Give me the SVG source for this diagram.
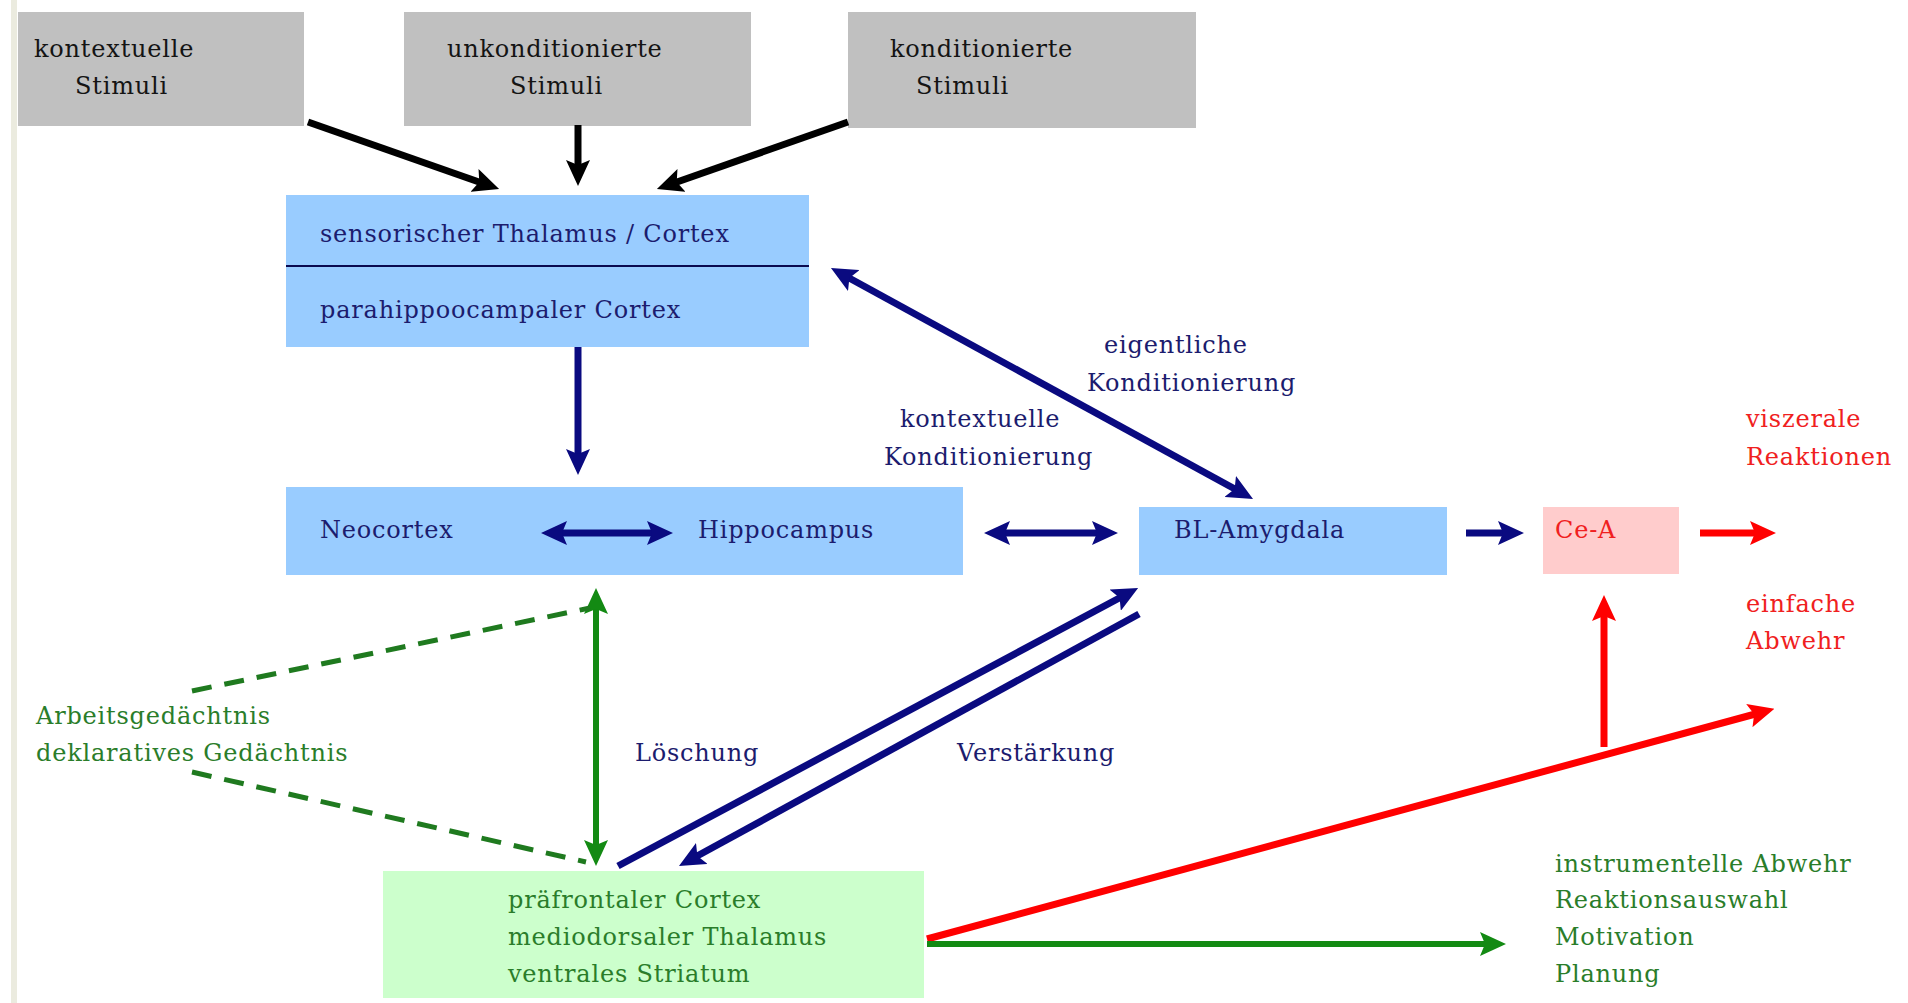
<svg xmlns="http://www.w3.org/2000/svg" width="1908" height="1003" viewBox="0 0 1908 1003">
<defs>
<style>
.t{font-family:"DejaVu Serif","Liberation Serif",serif;font-size:24px;letter-spacing:0.8px}
.k{fill:#141414}
.n{fill:#1c1c6e}
.r{fill:#f02020}
.g{fill:#2a7d2a}
.grey{fill:#c0c0c0}
.blue{fill:#99ccff}
.pink{fill:#ffcccc}
.green{fill:#ccffcc}
.lk{stroke:#000;stroke-width:7;fill:none}
.ln{stroke:#0a0a80;stroke-width:7;fill:none}
.lr{stroke:#ff0000;stroke-width:7;fill:none}
.lg{stroke:#138a13;stroke-width:6;fill:none}
.dash{stroke:#1f7a1f;stroke-width:5;fill:none;stroke-dasharray:20 13}
</style>
<marker id="ak" viewBox="0 0 26 24" markerWidth="26" markerHeight="24" refX="10" refY="12" markerUnits="userSpaceOnUse" orient="auto-start-reverse"><path d="M0,0 L26,12 L0,24 L5,12 Z" fill="#000"/></marker>
<marker id="an" viewBox="0 0 26 24" markerWidth="26" markerHeight="24" refX="10" refY="12" markerUnits="userSpaceOnUse" orient="auto-start-reverse"><path d="M0,0 L26,12 L0,24 L5,12 Z" fill="#0a0a80"/></marker>
<marker id="ar" viewBox="0 0 26 24" markerWidth="26" markerHeight="24" refX="10" refY="12" markerUnits="userSpaceOnUse" orient="auto-start-reverse"><path d="M0,0 L26,12 L0,24 L5,12 Z" fill="#ff0000"/></marker>
<marker id="ag" viewBox="0 0 26 24" markerWidth="26" markerHeight="24" refX="10" refY="12" markerUnits="userSpaceOnUse" orient="auto-start-reverse"><path d="M0,0 L26,12 L0,24 L5,12 Z" fill="#138a13"/></marker>
</defs>
<rect x="0" y="0" width="1908" height="1003" fill="#ffffff"/>
<rect x="11" y="0" width="6" height="1003" fill="#ebebdf"/>

<g id="nodes">
<g id="kontextuelle-stimuli">
<rect class="grey" x="18" y="12" width="286" height="114"/>
<text class="t k" x="34" y="57">kontextuelle</text>
<text class="t k" x="75" y="94">Stimuli</text>
</g>
<g id="unkonditionierte-stimuli">
<rect class="grey" x="404" y="12" width="347" height="114"/>
<text class="t k" x="447" y="57">unkonditionierte</text>
<text class="t k" x="510" y="94">Stimuli</text>
</g>
<g id="konditionierte-stimuli">
<rect class="grey" x="848" y="12" width="348" height="116"/>
<text class="t k" x="890" y="57">konditionierte</text>
<text class="t k" x="916" y="94">Stimuli</text>
</g>
<g id="thalamus-cortex">
<rect class="blue" x="286" y="195" width="523" height="152"/>
<line x1="286" y1="266" x2="809" y2="266" stroke="#0a0a50" stroke-width="2"/>
<text class="t n" x="320" y="242">sensorischer Thalamus / Cortex</text>
<text class="t n" x="320" y="318">parahippoocampaler Cortex</text>
</g>
<g id="neocortex-hippocampus">
<rect class="blue" x="286" y="487" width="677" height="88"/>
<text class="t n" x="320" y="538">Neocortex</text>
<text class="t n" x="698" y="538">Hippocampus</text>
</g>
<g id="bl-amygdala">
<rect class="blue" x="1139" y="507" width="308" height="68"/>
<text class="t n" x="1174" y="538">BL-Amygdala</text>
</g>
<g id="ce-a">
<rect class="pink" x="1543" y="507" width="136" height="67"/>
<text class="t r" x="1555" y="538">Ce-A</text>
</g>
<g id="praefrontal">
<rect class="green" x="383" y="871" width="541" height="127"/>
<text class="t g" x="508" y="908">präfrontaler Cortex</text>
<text class="t g" x="508" y="945">mediodorsaler Thalamus</text>
<text class="t g" x="508" y="982">ventrales Striatum</text>
</g>
<g id="viszerale-reaktionen">
<text class="t r" x="1746" y="427">viszerale</text>
<text class="t r" x="1746" y="465">Reaktionen</text>
</g>
<g id="einfache-abwehr">
<text class="t r" x="1746" y="612">einfache</text>
<text class="t r" x="1746" y="649">Abwehr</text>
</g>
<g id="instrumentelle">
<text class="t g" x="1555" y="872">instrumentelle Abwehr</text>
<text class="t g" x="1555" y="908">Reaktionsauswahl</text>
<text class="t g" x="1555" y="945">Motivation</text>
<text class="t g" x="1555" y="982">Planung</text>
</g>
<g id="gedaechtnis">
<text class="t g" x="36" y="724">Arbeitsgedächtnis</text>
<text class="t g" x="36" y="761">deklaratives Gedächtnis</text>
</g>
<g id="labels">
<text class="t n" x="1104" y="353">eigentliche</text>
<text class="t n" x="1087" y="391">Konditionierung</text>
<text class="t n" x="900" y="427">kontextuelle</text>
<text class="t n" x="884" y="465">Konditionierung</text>
<text class="t n" x="635" y="761">Löschung</text>
<text class="t n" x="957" y="761">Verstärkung</text>
</g>
</g>

<g id="connectors">
<line class="lk" x1="308" y1="122" x2="484" y2="183.7" marker-end="url(#ak)"/>
<line class="lk" x1="578" y1="125" x2="578" y2="170" marker-end="url(#ak)"/>
<line class="lk" x1="848" y1="122" x2="672" y2="183.7" marker-end="url(#ak)"/>

<line class="ln" x1="578" y1="347" x2="578" y2="459" marker-end="url(#an)"/>
<line class="ln" x1="845" y1="275.7" x2="1239" y2="491.3" marker-start="url(#an)" marker-end="url(#an)"/>
<line class="ln" x1="557" y1="533" x2="657" y2="533" marker-start="url(#an)" marker-end="url(#an)"/>
<line class="ln" x1="1000" y1="533" x2="1102" y2="533" marker-start="url(#an)" marker-end="url(#an)"/>
<line class="ln" x1="1466" y1="533" x2="1508" y2="533" marker-end="url(#an)"/>
<line class="ln" x1="618" y1="866" x2="1124" y2="595.5" marker-end="url(#an)"/>
<line class="ln" x1="1139" y1="614" x2="693" y2="858.3" marker-end="url(#an)"/>

<line class="lr" x1="1700" y1="533" x2="1760" y2="533" marker-end="url(#ar)"/>
<line class="lr" x1="1604" y1="747" x2="1604" y2="611" marker-end="url(#ar)"/>
<line class="lr" x1="927" y1="939" x2="1759" y2="713" marker-end="url(#ar)"/>

<line class="lg" x1="927" y1="944" x2="1490" y2="944" marker-end="url(#ag)"/>
<line class="lg" x1="596" y1="604" x2="596" y2="850" marker-start="url(#ag)" marker-end="url(#ag)"/>
<line class="dash" x1="192" y1="691" x2="590" y2="608"/>
<line class="dash" x1="192" y1="772" x2="586" y2="862"/>
</g>
</svg>
